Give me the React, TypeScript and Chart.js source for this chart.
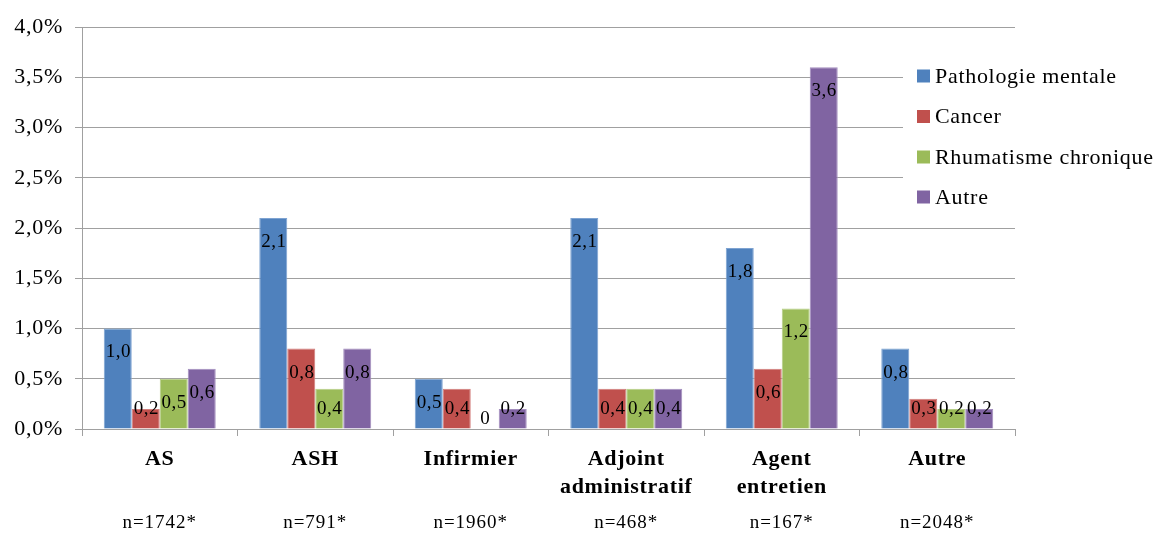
import React, { useEffect, useRef } from "react";
import { Chart, registerables } from "chart.js";

Chart.register(...registerables);

const categories: string[][] = [
  ["AS"],
  ["ASH"],
  ["Infirmier"],
  ["Adjoint", "administratif"],
  ["Agent", "entretien"],
  ["Autre"],
];
const sampleSizes = ["n=1742*", "n=791*", "n=1960*", "n=468*", "n=167*", "n=2048*"];
const seriesNames = ["Pathologie mentale", "Cancer", "Rhumatisme chronique", "Autre"];
const pathologieMentale = [1.0, 2.1, 0.5, 2.1, 1.8, 0.8];
const cancer = [0.2, 0.8, 0.4, 0.4, 0.6, 0.3];
const rhumatismeChronique = [0.5, 0.4, 0, 0.4, 1.2, 0.2];
const autre = [0.6, 0.8, 0.2, 0.4, 3.6, 0.2];
const seriesColors = ["#4F81BD", "#C0504D", "#9BBB59", "#8064A2"];
const seriesEdges = ["#7EA3D1", "#D27E7C", "#B5CE86", "#A38DBE"];
const yTicksMin = 0;
const yTicksMax = 4;
const yTickStep = 0.5;

const SERIF = "'Liberation Serif', 'Times New Roman', serif";
const TEXT = "#000";

const fmt = (v: number) => (v === 0 ? "0" : v.toFixed(1).replace(".", ","));

const spacingPlugin = {
  id: "spacing",
  beforeDraw(chart: any) {
    (chart.ctx as any).letterSpacing = "0.7px";
  },
};

const dataLabelPlugin = {
  id: "dataLabels",
  afterDatasetsDraw(chart: any) {
    const ctx = chart.ctx;
    ctx.save();
    (ctx as any).letterSpacing = "0.5px";
    ctx.font = `19px ${SERIF}`;
    ctx.fillStyle = TEXT;
    ctx.textAlign = "center";
    ctx.textBaseline = "middle";
    chart.data.datasets.forEach((ds: any, di: number) => {
      const meta = chart.getDatasetMeta(di);
      meta.data.forEach((el: any, i: number) => {
        const v = ds.data[i];
        const top = el.y;
        const base = el.base;
        const cy = v === 0 ? base - 10 : Math.min(top + 24, base - 19);
        ctx.fillText(fmt(v), el.x + 0.5, cy);
      });
    });
    ctx.restore();
  },
};

const extrasPlugin = {
  id: "extras",
  afterDraw(chart: any) {
    const ctx = chart.ctx;
    const xs = chart.scales.x;
    ctx.save();
    // sample sizes under categories
    (ctx as any).letterSpacing = "1px";
    ctx.font = `19px ${SERIF}`;
    ctx.fillStyle = TEXT;
    ctx.textAlign = "center";
    ctx.textBaseline = "alphabetic";
    sampleSizes.forEach((s, i) => {
      ctx.fillText(s, xs.getPixelForValue(i), 528);
    });
    // legend
    ctx.fillStyle = "#fff";
    ctx.fillRect(903, 42, 258, 172);
    (ctx as any).letterSpacing = "0.7px";
    ctx.font = `22px ${SERIF}`;
    ctx.textAlign = "left";
    ctx.textBaseline = "middle";
    const ys = [76, 116.5, 157, 197];
    chart.data.datasets.forEach((ds: any, i: number) => {
      ctx.fillStyle = ds.backgroundColor;
      ctx.fillRect(917, ys[i] - 6.5, 13, 13);
      ctx.fillStyle = TEXT;
      ctx.fillText(ds.label, 935, ys[i] + 1);
    });
    ctx.restore();
  },
};

export default function App() {
  const ref = useRef<HTMLCanvasElement | null>(null);
  useEffect(() => {
    document.body.style.margin = "0";
    const canvas = ref.current!;
    const series = [pathologieMentale, cancer, rhumatismeChronique, autre];
    const chart = new Chart(canvas, {
      type: "bar",
      data: {
        labels: categories as any,
        datasets: series.map((d, i) => ({
          label: seriesNames[i],
          data: d,
          backgroundColor: seriesColors[i],
          borderColor: seriesEdges[i],
          borderWidth: 1,
          categoryPercentage: 0.72,
          barPercentage: 1.0,
        })),
      },
      options: {
        animation: false,
        responsive: false,
        layout: { padding: { left: 0, top: 27, right: 146, bottom: 0 } },
        plugins: {
          legend: { display: false },
          tooltip: { enabled: false },
        },
        scales: {
          x: {
            offset: true,
            grid: {
              display: true,
              drawOnChartArea: false,
              drawTicks: true,
              tickLength: 7,
              color: "#a0a0a0",
              offset: true,
            },
            border: { display: true, color: "#a0a0a0", width: 1 },
            ticks: {
              color: TEXT,
              font: { family: SERIF, size: 22, weight: "bold", lineHeight: 1.27 },
              padding: 9,
              maxRotation: 0,
              autoSkip: false,
            },
            afterFit(scale: any) {
              scale.height = 107;
            },
          },
          y: {
            min: yTicksMin,
            max: yTicksMax,
            ticks: {
              stepSize: yTickStep,
              color: TEXT,
              font: { family: SERIF, size: 22 },
              padding: 12,
              callback: (v: any) => Number(v).toFixed(1).replace(".", ",") + "%",
            },
            grid: {
              color: "#a0a0a0",
              lineWidth: 1,
              tickLength: 7,
            },
            border: { display: true, color: "#a0a0a0", width: 1 },
            afterFit(scale: any) {
              scale.width = 82;
            },
          },
        },
      },
      plugins: [spacingPlugin, dataLabelPlugin, extrasPlugin],
    });
    return () => chart.destroy();
  }, []);
  return (
    <div style={{ position: "absolute", left: 0, top: 0, width: 1161, height: 536, background: "#fff" }}>
      <canvas ref={ref} width={1161} height={536} style={{ width: 1161, height: 536 }} />
    </div>
  );
}
